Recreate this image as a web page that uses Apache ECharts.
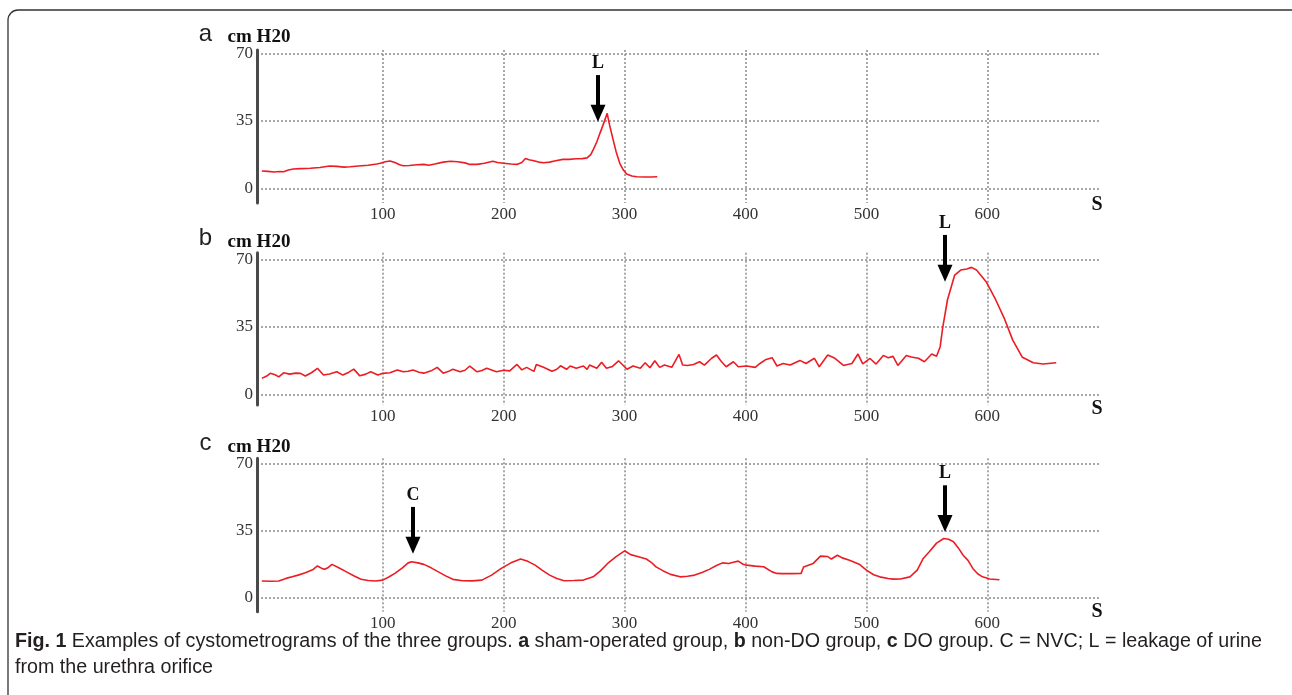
<!DOCTYPE html>
<html><head><meta charset="utf-8">
<script src="https://cdn.jsdelivr.net/npm/echarts@6/dist/echarts.min.js"></script>
<style>html,body{margin:0;padding:0;background:#fff}#c{width:1292px;height:695px}</style>
</head><body><div id="c"></div>
<script>
// ---- data ----
const xTicks = [100, 200, 300, 400, 500, 600];
const yTicks = [0, 35, 70];
const panelLetters = ['a', 'b', 'c'];
const yUnit = 'cm H20';
const xUnit = 'S';

const timeA = [0,5,10,15,18,22,26,32,40,48,56,62,68,73,80,88,95,98,102,106,110,114,117,122,128,134,138,143,150,156,162,168,172,178,184,191,195,200,206,211,215,218,221,225,229,233,238,244,249,254,260,265,269,272,274,277,279.6,282,284,285.6,287.5,290.6,293,296,299,301.7,306,310,316,322,327];
const pressA = [9.0,8.8,8.5,8.7,8.6,9.5,10.0,10.2,10.4,10.8,11.6,11.4,11.0,11.2,11.6,12.0,12.6,13.0,13.8,14.2,13.4,12.2,11.7,11.8,12.2,12.4,12.0,12.6,13.6,14.0,13.8,13.2,12.4,12.4,13.0,14.0,13.4,13.0,12.6,12.4,13.4,15.5,14.8,14.3,13.6,13.3,13.6,14.4,15.0,15.0,15.3,15.4,15.8,17.5,19.9,24.0,28.5,32.5,36.0,38.9,33.0,25.0,19.0,13.0,9.5,7.4,6.4,6.0,5.9,5.9,6.0];

const timeB = [0,4,7,11,14,18,23,28,32,36,41,46,51,56,62,67,72,76,81,86,90,96,100,106,112,117,121,125,130,134,140,145,150,154,158,164,168,172,178,182,186,190,194,200,205,211,215,219,225,227,233,236,240,244,247,252,255,260,266,269,271,277,281,285,290,295,302,307,313,317,321,325,329,333,339,345,348,352,357,362,366,372,376,380,384,390,394,401,408,412,417,422,426,431,437,445,450,457,461,468,474,481,488,493,497,503,508,514,518,522,526,533,537,543,548,554,558,561,563,567,573,578,583,587,591,599,607,614,621,629,638,646,657];
const pressB = [8.3,9.5,10.9,10.2,9.1,11.2,10.5,11.0,10.9,9.5,11.2,13.5,10.0,10.6,11.7,10.0,11.5,13.1,9.6,10.5,11.7,10.0,10.9,11.2,12.6,11.7,12.0,12.6,11.5,11.0,12.2,14.0,11.0,11.8,13.0,11.7,12.5,14.7,11.7,12.4,13.5,12.6,11.7,12.5,12.2,15.5,12.7,14.0,11.9,15.5,14.0,13.2,12.0,13.0,14.8,13.0,14.7,13.5,14.7,13.0,15.2,13.5,16.7,13.5,14.5,17.4,13.0,14.7,13.5,16.4,13.8,17.4,14.0,15.2,14.0,20.7,15.2,15.0,15.5,16.9,15.2,18.7,20.4,17.0,14.3,16.9,14.3,14.7,14.0,16.0,18.1,19.0,14.7,16.0,15.2,17.6,16.0,18.7,14.3,20.4,18.7,15.0,16.0,20.9,15.8,18.6,15.7,20.2,19.0,19.7,15.0,20.2,19.4,18.7,16.9,20.9,19.8,24.7,34.2,48.9,61.8,64.4,65.0,65.8,64.4,58.4,48.9,39.4,28.1,19.2,16.4,15.7,16.4];

const timeC = [0,8,14,20,25,30,36,42,46,50,52,55,58,64,70,76,82,88,94,100,105,110,116,121,124,129,134,140,146,152,158,166,174,182,190,198,206,214,220,226,232,238,244,250,258,266,274,280,286,293,300,305,310,318,322,326,332,338,346,352,358,364,370,376,381,386,390,394,398,401,408,415,422,426,430,438,446,448,452,456,462,468,471,476,480,486,494,500,506,511,518,522,528,536,542,547,552,558,564,568,572,576,580,584,588,592,596,602,610];
const pressC = [8.7,8.6,8.7,10.1,11.0,11.8,13.0,14.6,16.6,15.2,14.9,15.8,17.4,15.5,13.5,11.5,9.6,9.0,8.7,9.2,10.8,12.7,15.5,18.2,18.8,18.2,17.4,15.6,13.5,11.4,9.6,8.9,8.8,9.2,11.8,15.3,18.2,20.2,19.0,17.0,14.3,11.8,10.0,8.9,9.0,9.2,10.9,14.0,17.9,21.5,24.5,22.5,21.7,20.2,18.5,16.1,14.0,12.2,10.9,11.2,11.8,13.2,14.8,16.8,18.2,17.9,18.5,19.1,17.5,17.0,16.5,16.2,13.5,12.7,12.6,12.6,12.7,16.0,17.0,17.9,21.7,21.5,20.2,22.2,20.8,19.6,17.5,14.4,12.0,10.9,10.0,9.7,9.8,10.9,14.4,20.5,24.0,28.5,30.9,30.5,29.2,26.0,22.2,19.5,15.3,12.5,10.9,9.8,9.4];

// arrows: label, time, shaft start (top), arrow-head centre
const arrowsA = [{label:'L', t:278, from:58.7, to:38.9}];
const arrowsB = [{label:'L', t:565, from:82.6, to:62.7}];
const arrowsC = [{label:'C', t:125, from:47.4, to:27.4}, {label:'L', t:565, from:58.7, to:38.8}];

const caption1 = [['b','Fig. 1'],['n',' Examples of cystometrograms of the three groups. '],['b','a'],['n',' sham-operated group, '],['b','b'],['n',' non-DO group, '],['b','c'],['n',' DO group. C = NVC; L = leakage of urine']];
const caption2 = 'from the urethra orifice';

// ---- layout ----
const SERIF = '"Liberation Serif", "DejaVu Serif", serif';
const SANS = '"Liberation Sans", Arial, sans-serif';
const gridTops = [50, 252.7, 458.3];
const gridHeights = [153, 152.3, 153.4];
const yMins = [-7.6, -5.5, -7.3];
const yMaxs = [71.7, 73.4, 72.8];
const EXT_MAX = 95; // overlay axis top for annotation arrows
const GL = 257, GW = 844, XMIN = -4, XMAX = 694;
const panels = [[timeA, pressA, arrowsA], [timeB, pressB, arrowsB], [timeC, pressC, arrowsC]];

const dotted = {color: '#8c8c8c', type: [2, 2], width: 1.5};
const grids = [], xAxes = [], yAxes = [], series = [], graphic = [];

panels.forEach((p, i) => {
  grids.push({left: GL, width: GW, top: gridTops[i], height: gridHeights[i]});
  xAxes.push({
    type: 'value', gridIndex: i, min: XMIN, max: XMAX,
    axisLine: {show: false, onZero: false},
    axisTick: {show: false, customValues: xTicks},
    axisLabel: {customValues: xTicks, fontFamily: SERIF, fontSize: 17, color: '#333', margin: 3},
    splitLine: {show: true, lineStyle: dotted}
  });
  yAxes.push({
    type: 'value', gridIndex: i, min: yMins[i], max: yMaxs[i],
    axisLine: {show: true, onZero: false, lineStyle: {color: '#4a4a4a', width: 3}},
    axisTick: {show: false, customValues: yTicks},
    axisLabel: {customValues: yTicks, fontFamily: SERIF, fontSize: 17, color: '#333', margin: 4},
    splitLine: {show: true, lineStyle: dotted}
  });
  const [ts, ps] = p;
  series.push({
    type: 'line', xAxisIndex: i, yAxisIndex: i,
    data: ts.map((t, k) => [t, ps[k]]),
    showSymbol: false, symbol: 'none', clip: false,
    lineStyle: {color: '#ec1c24', width: 1.6},
    silent: true
  });
});

// overlay axes (same scale, taller range) carrying the arrows
panels.forEach((p, i) => {
  const k = gridHeights[i] / (yMaxs[i] - yMins[i]);
  const extra = (EXT_MAX - yMaxs[i]) * k;
  const gi = grids.length;
  grids.push({left: GL, width: GW, top: gridTops[i] - extra, height: gridHeights[i] + extra});
  xAxes.push({type: 'value', gridIndex: gi, min: XMIN, max: XMAX, show: false});
  yAxes.push({type: 'value', gridIndex: gi, min: yMins[i], max: EXT_MAX, show: false});
  const arrows = p[2];
  series.push({
    type: 'line', xAxisIndex: gi, yAxisIndex: gi, data: [], silent: true,
    markLine: {
      silent: true, animation: false,
      symbol: ['none', 'triangle'], symbolSize: [15, 17],
      lineStyle: {color: '#000', width: 4, type: 'solid'},
      label: {show: true, position: 'start', formatter: '{b}', fontFamily: SERIF, fontWeight: 'bold', fontSize: 18, color: '#111', distance: 3},
      emphasis: {disabled: true},
      data: arrows.map(a => [{name: a.label, coord: [a.t, a.from]}, {coord: [a.t, a.to]}])
    }
  });
});

// panel letters and units
const letterY = [34.6, 238.6, 443.6];
const unitY = [36.7, 241.7, 446.7];
const sY = [205, 409, 612];
panelLetters.forEach((l, i) => {
  graphic.push({type: 'text', x: 205.5, y: letterY[i], style: {text: l, fontFamily: SANS, fontSize: 24, fill: '#231f20', align: 'center', verticalAlign: 'middle'}});
  graphic.push({type: 'text', x: 259, y: unitY[i], style: {text: yUnit, fontFamily: SERIF, fontWeight: 'bold', fontSize: 19, fill: '#111', align: 'center', verticalAlign: 'middle'}});
  graphic.push({type: 'text', x: 1097, y: sY[i], style: {text: xUnit, fontFamily: SERIF, fontWeight: 'bold', fontSize: 20, fill: '#111', align: 'center', verticalAlign: 'middle'}});
});

// caption
const cv = document.createElement('canvas').getContext('2d');
const CAPF = 20;
function segW(s) { cv.font = (s[0] === 'b' ? 'bold ' : '') + CAPF + 'px "Liberation Sans"'; return cv.measureText(s[1]).width; }
const capTotal = caption1.reduce((a, s) => a + segW(s), 0);
const sx = 1247 / capTotal;
const capRich = {b: {fontWeight: 'bold', fontSize: CAPF, fontFamily: SANS, fill: '#231f20'}, n: {fontSize: CAPF, fontFamily: SANS, fill: '#231f20'}};
graphic.push({type: 'text', x: 15, y: 641, scaleX: sx, style: {text: caption1.map(s => '{' + s[0] + '|' + s[1] + '}').join(''), rich: capRich, verticalAlign: 'middle'}});
graphic.push({type: 'text', x: 15, y: 667, scaleX: sx, style: {text: '{n|' + caption2 + '}', rich: capRich, verticalAlign: 'middle'}});
// frame
graphic.push({type: 'rect', shape: {x: 8, y: 10, width: 1300, height: 720, r: 10}, style: {fill: 'none', stroke: '#333', lineWidth: 1.3}, silent: true, z: -1});

const chart = echarts.init(document.getElementById('c'), null, {renderer: 'canvas'});
chart.setOption({
  animation: false,
  backgroundColor: '#fff',
  grid: grids, xAxis: xAxes, yAxis: yAxes, series: series, graphic: graphic
});
</script></body></html>
